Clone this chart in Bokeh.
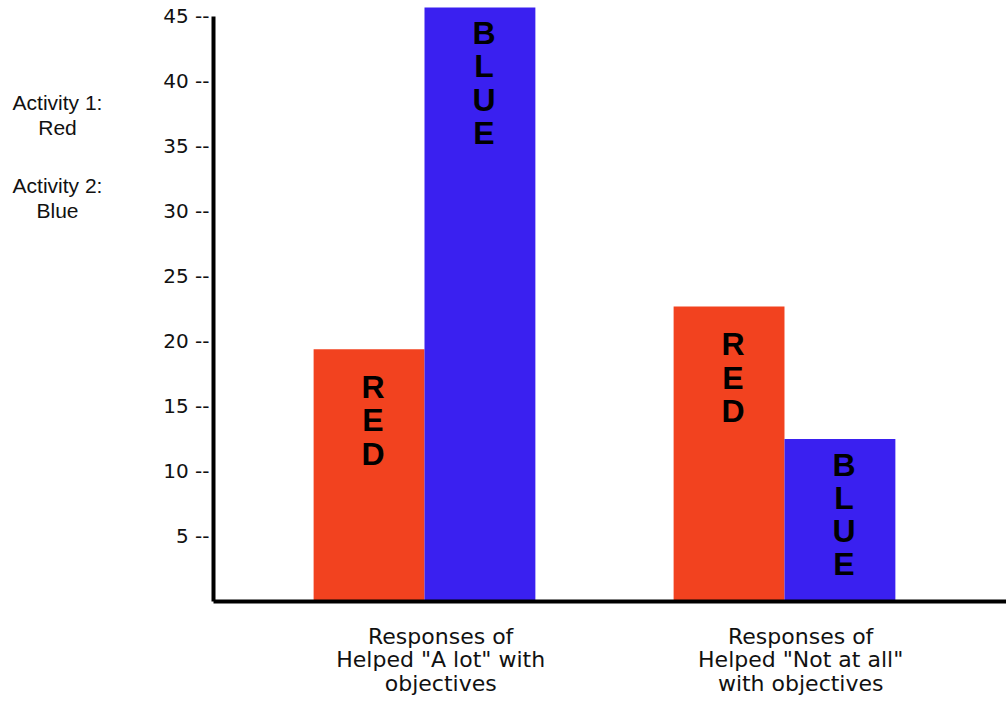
from bokeh.plotting import figure
from bokeh.layouts import row
from bokeh.models import Range1d, FixedTicker, CustomJSTickFormatter, ColumnDataSource
from bokeh.core.properties import value
from bokeh.embed import file_html
from bokeh.resources import INLINE

# ---- data ----
group_labels = ['Responses of\nHelped "A lot" with\nobjectives',
                'Responses of\nHelped "Not at all"\nwith objectives']
series_names = ["Red", "Blue"]
red_values = [19.4, 22.7]
blue_values = [45.7, 12.5]
red_letters = "R\nE\nD"
blue_letters = "B\nL\nU\nE"
y_ticks = [5, 10, 15, 20, 25, 30, 35, 40, 45]
legend_notes = ["Activity 1:\nRed", "Activity 2:\nBlue"]

RED = "#F2421F"
BLUE = "#3A20F0"
FONT = "DejaVu Sans"
TXT = "#111111"

# ---- left panel with the activity notes ----
H = 702
LW = 160
left = figure(width=LW, height=H, output_backend="svg", toolbar_location=None,
              x_range=Range1d(0, LW), y_range=Range1d(H, 0),
              x_axis_type=None, y_axis_type=None, min_border=0)
left.outline_line_color = None
left.grid.visible = False
left.text(x=[57, 57], y=[106, 203], text=legend_notes, text_align="center",
          text_baseline="top", text_font=value("Liberation Sans"),
          text_font_size="21px", text_line_height=1.08, text_color=TXT)

# ---- main chart ----
n = len(group_labels)
dodge = 0.154
bar_w = 0.308
idx = list(range(n))

red_src = ColumnDataSource(dict(x=[i - dodge for i in idx], top=red_values,
                                txt=[red_letters] * n))
blue_src = ColumnDataSource(dict(x=[i + dodge for i in idx], top=blue_values,
                                 txt=[blue_letters] * n))

p = figure(width=1006 - LW, height=H, output_backend="svg", toolbar_location=None,
           x_range=Range1d(-0.5861, 1.6167), y_range=Range1d(0, 46.23),
           min_border_left=53, min_border_right=0, min_border_top=0,
           min_border_bottom=101)
p.background_fill_color = "white"
p.border_fill_color = "white"
p.outline_line_color = None
p.grid.visible = False

p.vbar(x="x", top="top", bottom=0, width=bar_w, source=red_src,
       fill_color=RED, line_color=None)
p.vbar(x="x", top="top", bottom=0, width=bar_w, source=blue_src,
       fill_color=BLUE, line_color=None)

for src, yoff in ((red_src, 20), (blue_src, 8)):
    p.text(x="x", y="top", text="txt", source=src, x_offset=4, y_offset=yoff,
           text_align="center", text_baseline="top",
           text_font=value("Liberation Sans"), text_font_style="bold",
           text_font_size="32px", text_line_height=0.92, text_color="black")

# y axis
ya = p.yaxis[0]
ya.ticker = FixedTicker(ticks=y_ticks)
ya.formatter = CustomJSTickFormatter(code="return tick + ' --'")
ya.bounds = (0, 45)
ya.axis_line_width = 4
ya.axis_line_color = "black"
ya.major_tick_line_color = None
ya.minor_tick_line_color = None
ya.major_tick_out = 0
ya.major_tick_in = 0
ya.minor_tick_out = 0
ya.major_label_standoff = 4
ya.major_label_text_font = FONT
ya.major_label_text_font_size = "20px"
ya.major_label_text_color = TXT

# x axis
xa = p.xaxis[0]
xa.ticker = FixedTicker(ticks=[i + 0.045 for i in idx])
xa.formatter = CustomJSTickFormatter(args=dict(labels=group_labels),
                                     code="return labels[Math.round(tick)]")
xa.axis_line_width = 4
xa.axis_line_color = "black"
xa.major_tick_line_color = None
xa.minor_tick_line_color = None
xa.major_tick_out = 0
xa.major_tick_in = 0
xa.minor_tick_out = 0
xa.major_label_standoff = 22
xa.major_label_text_font = FONT
xa.major_label_text_font_size = "22px"
xa.major_label_text_line_height = 0.95
xa.major_label_text_color = TXT
xa.major_label_text_align = "center"

layout = row(left, p, spacing=0)
open("out.html", "w").write(file_html(layout, INLINE))
